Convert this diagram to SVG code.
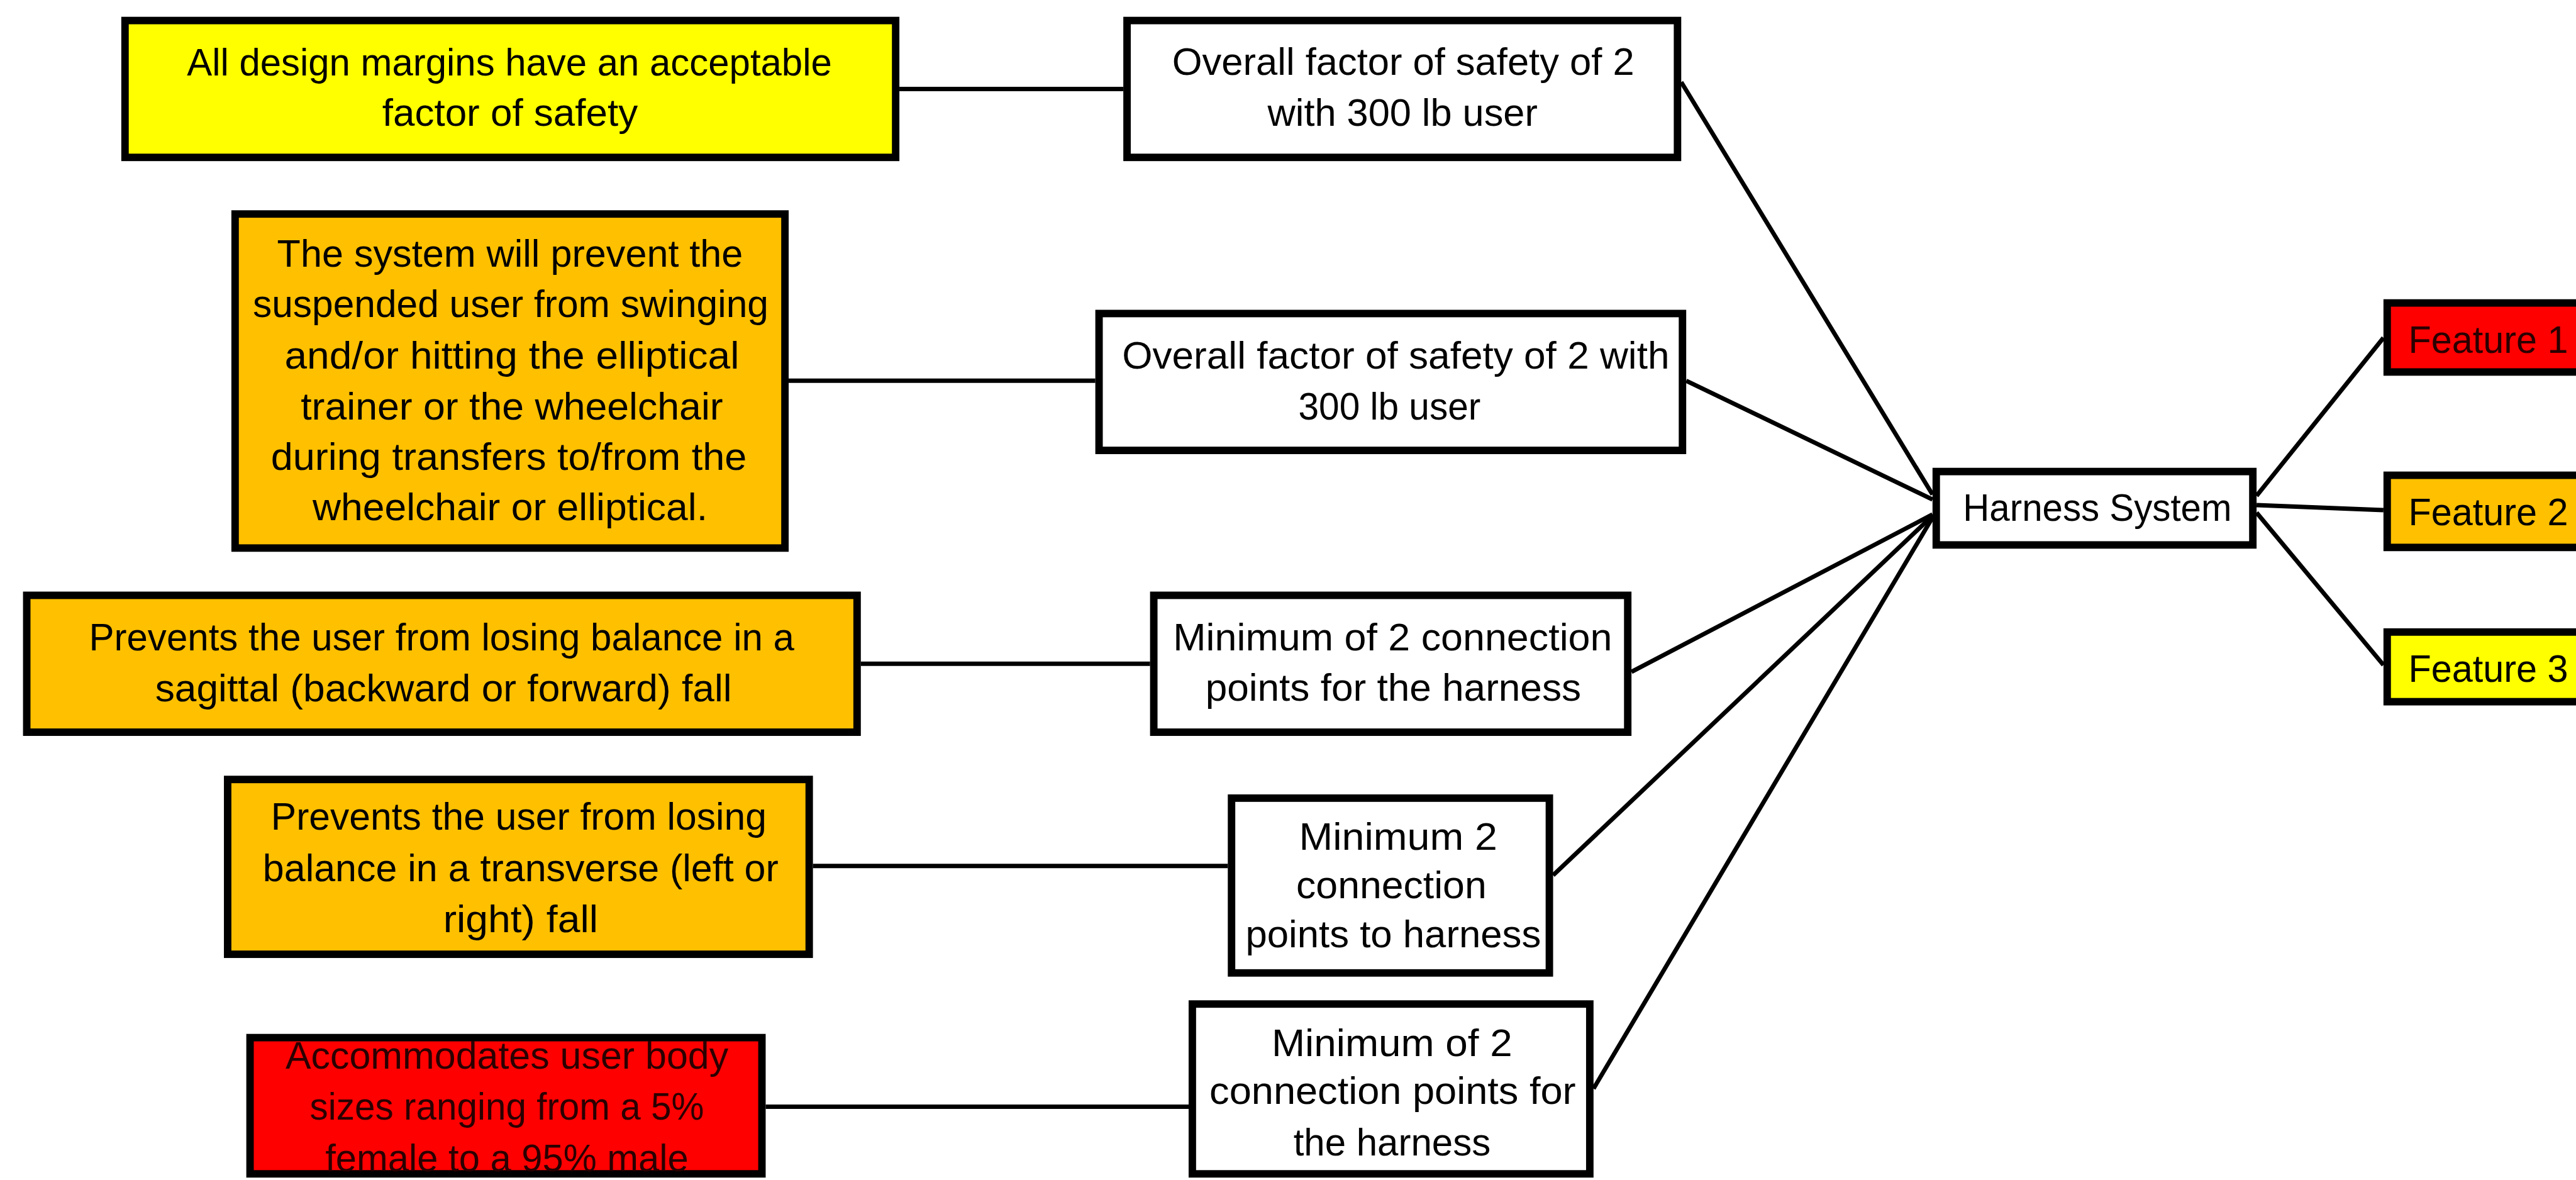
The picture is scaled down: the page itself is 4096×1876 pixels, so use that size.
<svg xmlns="http://www.w3.org/2000/svg" width="4096" height="1876" viewBox="0 0 4096 1876">
<style>
.box{stroke:#000;stroke-width:12}
.w{fill:#fff}.y{fill:#ffff00}.o{fill:#ffc000}.r{fill:#ff0000}
text{font-family:"Liberation Sans",Arial,sans-serif;font-size:62px;fill:#000;text-anchor:middle}
.rt{fill:#2b0000}
.st{text-anchor:start}
.c line{stroke:#000;stroke-width:7;stroke-linecap:butt}
</style>
<rect width="4096" height="1876" fill="#fff"/>
<g transform="scale(0.989)">
<g class="c" id="connectors">
<line x1="1446" y1="143" x2="1806" y2="143"/>
<line x1="1268" y1="612" x2="1761" y2="612"/>
<line x1="1384" y1="1067" x2="1849" y2="1067"/>
<line x1="1307" y1="1392" x2="1974" y2="1392"/>
<line x1="1231" y1="1779" x2="1911" y2="1779"/>
<line x1="2703" y1="132" x2="3107" y2="795"/>
<line x1="2711" y1="612" x2="3107" y2="803"/>
<line x1="2623" y1="1080" x2="3107" y2="827"/>
<line x1="2497" y1="1407" x2="3107" y2="829"/>
<line x1="2562" y1="1750" x2="3107" y2="832"/>
<line x1="3628" y1="797" x2="3832" y2="543"/>
<line x1="3628" y1="812" x2="3832" y2="820"/>
<line x1="3628" y1="824" x2="3832" y2="1069"/>
</g>
<g id="n1"><rect class="box y" x="201" y="33" width="1239" height="220"/>
<text x="819" y="121" textLength="1037" lengthAdjust="spacingAndGlyphs">All design margins have an acceptable</text>
<text x="820" y="202" textLength="411" lengthAdjust="spacingAndGlyphs">factor of safety</text></g>
<g id="n2"><rect class="box w" x="1812" y="33" width="885" height="220"/>
<text x="2256" y="120" textLength="743" lengthAdjust="spacingAndGlyphs">Overall factor of safety of 2</text>
<text x="2255" y="202" textLength="434" lengthAdjust="spacingAndGlyphs">with 300 lb user</text></g>
<g id="n3"><rect class="box o" x="378" y="344" width="884" height="537"/>
<text x="820" y="429" textLength="749" lengthAdjust="spacingAndGlyphs">The system will prevent the</text>
<text x="821" y="510" textLength="829" lengthAdjust="spacingAndGlyphs">suspended user from swinging</text>
<text x="823" y="593" textLength="731" lengthAdjust="spacingAndGlyphs">and/or hitting the elliptical</text>
<text x="823" y="674" textLength="679" lengthAdjust="spacingAndGlyphs">trainer or the wheelchair</text>
<text x="818" y="755" textLength="765" lengthAdjust="spacingAndGlyphs">during transfers to/from the</text>
<text x="820" y="836" textLength="635" lengthAdjust="spacingAndGlyphs">wheelchair or elliptical.</text></g>
<g id="n4"><rect class="box w" x="1767" y="504" width="938" height="220"/>
<text x="2244" y="593" textLength="880" lengthAdjust="spacingAndGlyphs">Overall factor of safety of 2 with</text>
<text x="2234" y="674" textLength="293" lengthAdjust="spacingAndGlyphs">300 lb user</text></g>
<g id="n5"><rect class="box o" x="43" y="957" width="1335" height="220"/>
<text x="710" y="1045" textLength="1134" lengthAdjust="spacingAndGlyphs">Prevents the user from losing balance in a</text>
<text x="713" y="1127" textLength="927" lengthAdjust="spacingAndGlyphs">sagittal (backward or forward) fall</text></g>
<g id="n6"><rect class="box w" x="1855" y="957" width="762" height="220"/>
<text x="2239" y="1045" textLength="706" lengthAdjust="spacingAndGlyphs">Minimum of 2 connection</text>
<text x="2240" y="1126" textLength="604" lengthAdjust="spacingAndGlyphs">points for the harness</text></g>
<g id="n7"><rect class="box o" x="366" y="1253" width="935" height="281"/>
<text x="834" y="1334" textLength="797" lengthAdjust="spacingAndGlyphs">Prevents the user from losing</text>
<text x="837" y="1417" textLength="829" lengthAdjust="spacingAndGlyphs">balance in a transverse (left or</text>
<text x="837" y="1498" textLength="249" lengthAdjust="spacingAndGlyphs">right) fall</text></g>
<g id="n8"><rect class="box w" x="1980" y="1283" width="511" height="281"/>
<text x="2248" y="1366" textLength="319" lengthAdjust="spacingAndGlyphs">Minimum 2</text>
<text x="2237" y="1444" textLength="306" lengthAdjust="spacingAndGlyphs">connection</text>
<text x="2240" y="1523" textLength="475" lengthAdjust="spacingAndGlyphs">points to harness</text></g>
<g id="n9"><rect class="box r" x="402" y="1668" width="823" height="219"/>
<text class="rt" x="815" y="1718" textLength="712" lengthAdjust="spacingAndGlyphs">Accommodates user body</text>
<text class="rt" x="815" y="1800" textLength="634" lengthAdjust="spacingAndGlyphs">sizes ranging from a 5%</text>
<text class="rt" x="815" y="1883" textLength="584" lengthAdjust="spacingAndGlyphs">female to a 95% male</text></g>
<g id="n10"><rect class="box w" x="1917" y="1614" width="639" height="273"/>
<text x="2238" y="1698" textLength="387" lengthAdjust="spacingAndGlyphs">Minimum of 2</text>
<text x="2239" y="1775" textLength="589" lengthAdjust="spacingAndGlyphs">connection points for</text>
<text x="2238" y="1857" textLength="317" lengthAdjust="spacingAndGlyphs">the harness</text></g>
<g id="hub"><rect class="box w" x="3113" y="758" width="509" height="118"/>
<text x="3372" y="837" textLength="432" lengthAdjust="spacingAndGlyphs">Harness System</text></g>
<g id="f1"><rect class="box r" x="3838" y="487" width="400" height="111"/>
<text class="st rt" x="3872" y="567" textLength="257" lengthAdjust="spacingAndGlyphs">Feature 1</text></g>
<g id="f2"><rect class="box o" x="3838" y="764" width="400" height="116"/>
<text class="st" x="3872" y="844" textLength="257" lengthAdjust="spacingAndGlyphs">Feature 2</text></g>
<g id="f3"><rect class="box y" x="3838" y="1016" width="400" height="112"/>
<text class="st" x="3872" y="1096" textLength="257" lengthAdjust="spacingAndGlyphs">Feature 3</text></g>
</g>
</svg>
